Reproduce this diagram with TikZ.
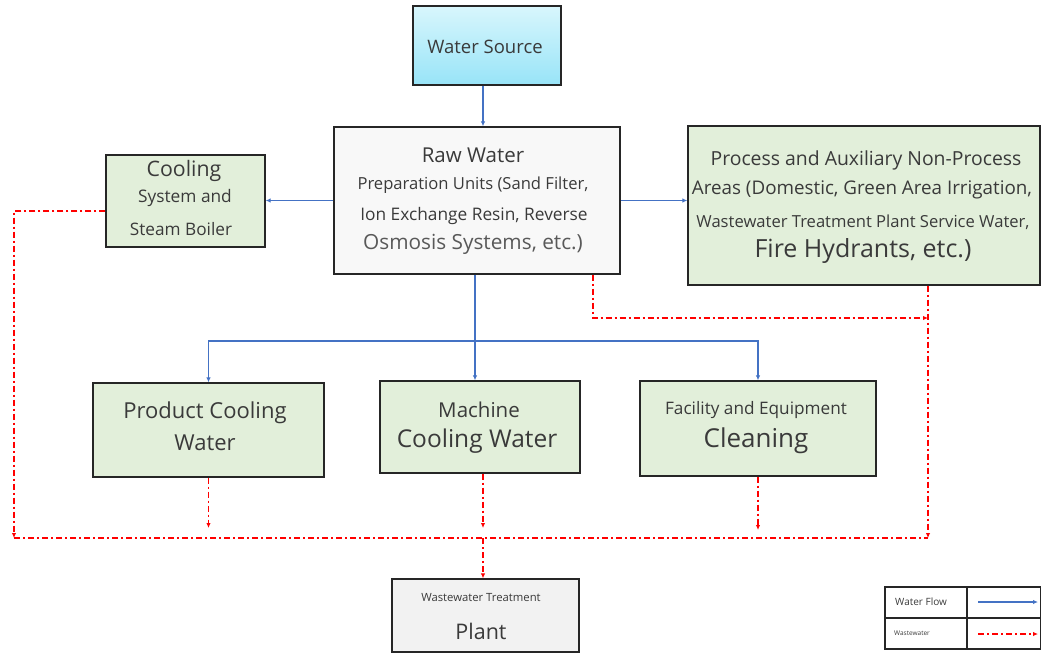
\documentclass[tikz,border=0pt]{standalone}
\usepackage{fontspec}
\setmainfont{Open Sans}
\usetikzlibrary{arrows.meta}
\definecolor{boxgreen}{HTML}{E2EFDA}
\definecolor{rawgray}{HTML}{F8F8F8}
\definecolor{wwgray}{HTML}{F2F2F2}
\definecolor{flowblue}{HTML}{4472C4}
\definecolor{txt}{HTML}{3A3A3A}
\definecolor{txtl}{HTML}{595959}
\definecolor{srctop}{HTML}{D8F6FC}
\definecolor{srcbot}{HTML}{98E4F8}
\newcommand{\fs}[1]{\fontsize{#1}{#1}\selectfont}
\tikzset{
  box/.style={draw=black!85, line width=1.3pt, inner sep=0pt},
  greenbox/.style={box, fill=boxgreen},
  lbl/.style={text=txt, inner sep=0pt, anchor=center},
  flow/.style={draw=flowblue, line width=1.4pt, -{Latex[length=5pt,width=4.5pt]}},
  waste/.style={draw=red, line width=1.3pt, dash pattern=on 6pt off 3pt on 2pt off 3pt, -{Latex[length=5pt,width=4.5pt]}},
  wasteline/.style={draw=red, line width=1.3pt, dash pattern=on 6pt off 3pt on 2pt off 3pt},
}
\begin{document}
\begin{tikzpicture}[x=1pt,y=-1pt]
\useasboundingbox (0,0) rectangle (1041,656);

% boxes
\node[box, top color=srctop, bottom color=srcbot, minimum width=148pt, minimum height=79pt] (src) at (487,45.5) {};
\node[box, fill=rawgray, minimum width=286pt, minimum height=147pt] (raw) at (477,200.5) {};
\node[greenbox, minimum width=159pt, minimum height=92pt] (cool) at (185.5,201) {};
\node[greenbox, minimum width=352pt, minimum height=159pt] (proc) at (864,205.5) {};
\node[greenbox, minimum width=231pt, minimum height=94pt] (prod) at (208.5,430) {};
\node[greenbox, minimum width=200pt, minimum height=92pt] (mach) at (480,427) {};
\node[greenbox, minimum width=236pt, minimum height=95pt] (fac) at (758,428.5) {};
\node[box, fill=wwgray, minimum width=187pt, minimum height=73pt] (wwtp) at (485.5,615.5) {};

% texts
\node[lbl] (tsrc) at (485,47) {\fs{18.5}Water Source};
\node[lbl] (traw1) at (473,155) {\fs{20.5}Raw Water};
\node[lbl] (traw2) at (473,185) {\fs{16.6}Preparation Units (Sand Filter,};
\node[lbl] (traw3) at (474,216) {\fs{17.3}Ion Exchange Resin, Reverse};
\node[lbl, text=txtl] (traw4) at (473,244) {\fs{20.8}Osmosis Systems, etc.)};
\node[lbl] (tcool1) at (184,171) {\fs{21.3}Cooling};
\node[lbl] (tcool2) at (185,198) {\fs{17.3}System and};
\node[lbl] (tcool3) at (181,229) {\fs{17.2}Steam Boiler};
\node[lbl] (tproc1) at (866,160) {\fs{19.4}Process and Auxiliary Non-Process};
\node[lbl] (tproc2) at (862,190) {\fs{18.8}Areas (Domestic, Green Area Irrigation,};
\node[lbl] (tproc3) at (863,222) {\fs{16.6}Wastewater Treatment Plant Service Water,};
\node[lbl] (tproc4) at (863,251) {\fs{25}Fire Hydrants, etc.)};
\node[lbl] (tprod1) at (205,413) {\fs{22}Product Cooling};
\node[lbl] (tprod2) at (205,443) {\fs{22}Water};
\node[lbl] (tmach1) at (479,410) {\fs{20.5}Machine};
\node[lbl] (tmach2) at (477,441) {\fs{24.5}Cooling Water};
\node[lbl] (tfac1) at (756,410) {\fs{17.2}Facility and Equipment};
\node[lbl] (tfac2) at (756,441) {\fs{26}Cleaning};
\node[lbl] (tww1) at (481,598) {\fs{11.3}Wastewater Treatment};
\node[lbl] (tww2) at (481,631) {\fs{21.5}Plant};

% water flow connectors
\coordinate (a1) at (483,0);
\draw[flow] (src.south -| a1) -- (raw.north -| a1);
\draw[flow] (raw.west) -- (raw.west -| cool.east);
\draw[flow] (raw.east) -- (raw.east -| proc.west);
\coordinate (j) at (475,341);
\draw[flow] (raw.south -| j) -- (mach.north -| j);
\draw[flow] (j) -| (prod.north);
\draw[flow] (j) -| (fac.north);

% wastewater connectors
\coordinate (wl) at (14,211);
\coordinate (wb) at (14,538);
\coordinate (wr) at (928,538);
\coordinate (wm) at (483,538);
\coordinate (wt) at (593,318);
\coordinate (wtr) at (928,318);
\draw[waste] (cool.west |- wl) -- (wl) -- (wb);
\draw[wasteline] (wb) -- (wr);
\draw[waste] (proc.south -| wr) -- (wr);
\draw[waste] (raw.south -| wt) -- (wt) -- (wtr);
\draw[waste] (prod.south) -- ([yshift=10pt]prod.south |- wb);
\draw[waste] (mach.south -| wm) -- ([yshift=10pt]wm);
\draw[waste] (wm) -- (wwtp.north -| wm);
\draw[waste] (fac.south) -- ([yshift=8pt]fac.south |- wb);

% legend
\draw[line width=1.2pt, draw=black!85] (885,587) rectangle (1041,649);
\draw[line width=1.2pt, draw=black!85] (967,587) -- (967,649);
\draw[line width=1.2pt, draw=black!85] (885,618) -- (1041,618);
\node[lbl, anchor=west] (lg1) at (895,602) {\fs{10}Water Flow};
\node[lbl, anchor=west] (lg2) at (894,633) {\fs{6.5}Wastewater};
\coordinate (lb1) at (978,602);
\coordinate (lb2) at (1038,602);
\coordinate (lr1) at (978,634);
\coordinate (lr2) at (1038,634);
\draw[flow] (lb1) -- (lb2);
\draw[waste] (lr1) -- (lr2);
\end{tikzpicture}
\end{document}
